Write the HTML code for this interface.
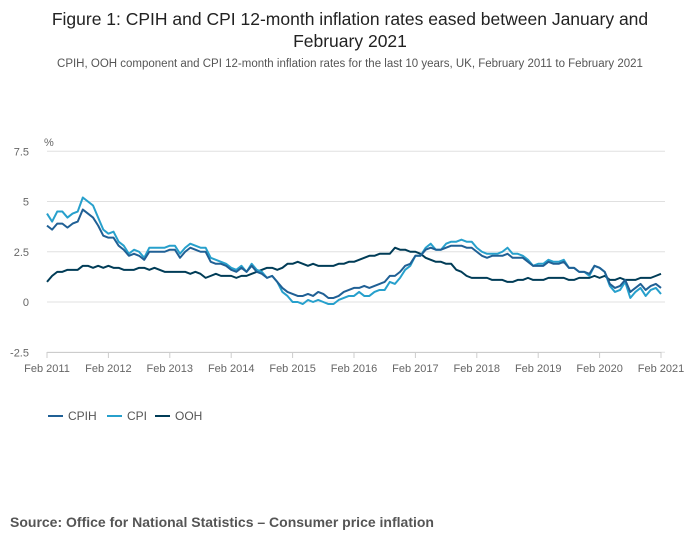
<!DOCTYPE html>
<html><head><meta charset="utf-8"><style>
body{margin:0;width:700px;height:549px;background:#fff;font-family:"Liberation Sans","DejaVu Sans",sans-serif;overflow:hidden}
#title{position:absolute;top:8px;left:30px;width:640px;text-align:center;font-size:17.5px;line-height:22px;color:#222}
#sub{position:absolute;top:58px;left:0;width:700px;text-align:center;font-size:11.5px;color:#555}
#src{position:absolute;top:514px;left:10px;font-size:14px;font-weight:bold;color:#555}
svg{position:absolute;top:0;left:0}
</style></head><body>
<div id="title">Figure 1: CPIH and CPI 12-month inflation rates eased between January and February 2021</div>
<div id="sub">CPIH, OOH component and CPI 12-month inflation rates for the last 10 years, UK, February 2011 to February 2021</div>
<svg id="chart" width="700" height="549"></svg>
<div id="src">Source: Office for National Statistics – Consumer price inflation</div>
<script>
const yTicks=[-2.5,0,2.5,5,7.5];
const yTickLabels=["-2.5","0","2.5","5","7.5"];
const xTickLabels=["Feb 2011","Feb 2012","Feb 2013","Feb 2014","Feb 2015","Feb 2016","Feb 2017","Feb 2018","Feb 2019","Feb 2020","Feb 2021"];
const cpih=[3.8,3.6,3.9,3.9,3.7,3.9,4.0,4.6,4.4,4.2,3.8,
3.3,3.2,3.2,2.8,2.6,2.3,2.4,2.3,2.1,2.5,2.5,2.5,
2.5,2.6,2.6,2.2,2.5,2.7,2.6,2.5,2.5,2.0,1.9,1.9,
1.8,1.6,1.5,1.7,1.5,1.8,1.5,1.4,1.2,1.3,1.0,0.7,
0.5,0.4,0.3,0.3,0.4,0.3,0.5,0.4,0.2,0.2,0.3,0.5,
0.6,0.7,0.7,0.8,0.7,0.8,0.9,1.0,1.3,1.3,1.5,1.8,
1.9,2.3,2.3,2.6,2.7,2.6,2.6,2.7,2.8,2.8,2.8,2.7,
2.7,2.5,2.3,2.2,2.3,2.3,2.3,2.4,2.2,2.2,2.2,2.0,
1.8,1.8,1.8,2.0,1.9,1.9,2.0,1.7,1.7,1.5,1.5,1.4,
1.8,1.7,1.5,0.9,0.7,0.8,1.1,0.5,0.7,0.9,0.6,0.8,
0.9,0.7];
const cpi=[4.4,4.0,4.5,4.5,4.2,4.4,4.5,5.2,5.0,4.8,4.2,
3.6,3.4,3.5,3.0,2.8,2.4,2.6,2.5,2.2,2.7,2.7,2.7,
2.7,2.8,2.8,2.4,2.7,2.9,2.8,2.7,2.7,2.2,2.1,2.0,
1.9,1.7,1.6,1.8,1.5,1.9,1.6,1.5,1.2,1.3,1.0,0.5,
0.3,0.0,0.0,-0.1,0.1,0.0,0.1,0.0,-0.1,-0.1,0.1,0.2,
0.3,0.3,0.5,0.3,0.3,0.5,0.6,0.6,1.0,0.9,1.2,1.6,
1.8,2.3,2.3,2.7,2.9,2.6,2.6,2.9,3.0,3.0,3.1,3.0,
3.0,2.7,2.5,2.4,2.4,2.4,2.5,2.7,2.4,2.4,2.3,2.1,
1.8,1.9,1.9,2.1,2.0,2.0,2.1,1.7,1.7,1.5,1.5,1.3,
1.8,1.7,1.5,0.8,0.5,0.6,1.0,0.2,0.5,0.7,0.3,0.6,
0.7,0.4];
const ooh=[1.0,1.3,1.5,1.5,1.6,1.6,1.6,1.8,1.8,1.7,1.8,
1.7,1.8,1.7,1.7,1.6,1.6,1.6,1.7,1.7,1.6,1.7,1.6,
1.5,1.5,1.5,1.5,1.5,1.4,1.5,1.4,1.2,1.3,1.4,1.3,
1.3,1.3,1.2,1.3,1.3,1.4,1.5,1.6,1.7,1.7,1.6,1.7,
1.9,1.9,2.0,1.9,1.8,1.9,1.8,1.8,1.8,1.8,1.9,1.9,
2.0,2.0,2.1,2.2,2.3,2.3,2.4,2.4,2.4,2.7,2.6,2.6,
2.5,2.5,2.4,2.2,2.1,2.0,2.0,1.9,1.9,1.6,1.5,1.3,
1.2,1.2,1.2,1.2,1.1,1.1,1.1,1.0,1.0,1.1,1.1,1.2,
1.1,1.1,1.1,1.2,1.2,1.2,1.2,1.1,1.1,1.2,1.2,1.2,
1.3,1.2,1.3,1.1,1.1,1.2,1.1,1.1,1.1,1.2,1.2,1.2,
1.3,1.4];
const NS="http://www.w3.org/2000/svg";
const svg=document.getElementById('chart');
const X0=47,X1=661,Y0=302,K=20.1;
const xs=i=>X0+(X1-X0)*i/120;
const ys=v=>Y0-v*K;
function mk(t,a){const e=document.createElementNS(NS,t);for(const k in a)e.setAttribute(k,a[k]);svg.appendChild(e);return e;}
yTicks.forEach((v,i)=>{
 const g=mk('line',{x1:X0,x2:665,y1:ys(v),y2:ys(v),stroke:'#e0e0e0','stroke-width':1});
 
 
 const t=mk('text',{x:29,y:ys(v)+4,'text-anchor':'end','font-size':11,fill:'#666'});
 t.textContent=yTickLabels[i];
 
 
});
const u=mk('text',{x:44,y:146,'font-size':11,fill:'#666'});u.textContent='%';


const ax=mk('line',{x1:X0,x2:X1,y1:352.5,y2:352.5,stroke:'#ccc'});


xTickLabels.forEach((l,i)=>{
 const x=xs(i*12);
 const tk=mk('line',{x1:x,x2:x,y1:352,y2:358,stroke:'#ccc'});
 
 
 const t=mk('text',{x:x,y:372,'text-anchor':'middle','font-size':11,fill:'#666'});
 t.textContent=l;
 
 
});
function line(d,c,n){
 const p=mk('polyline',{points:d.map((v,i)=>xs(i)+','+ys(v)).join(' '),fill:'none',stroke:c,'stroke-width':2,'stroke-linejoin':'round'});
 
 
}
line(ooh,'#003c57','ooh-line');
line(cpi,'#27a0cc','cpi-line');
line(cpih,'#206095','cpih-line');
[['CPIH','#206095',48],['CPI','#27a0cc',107],['OOH','#003c57',155]].forEach(([n,c,x])=>{
 const l=mk('line',{x1:x,x2:x+15,y1:416,y2:416,stroke:c,'stroke-width':2});
 
 
 const t=mk('text',{x:x+20,y:420,'font-size':12,fill:'#555'});t.textContent=n;
 
 
});
</script>
</body></html>
